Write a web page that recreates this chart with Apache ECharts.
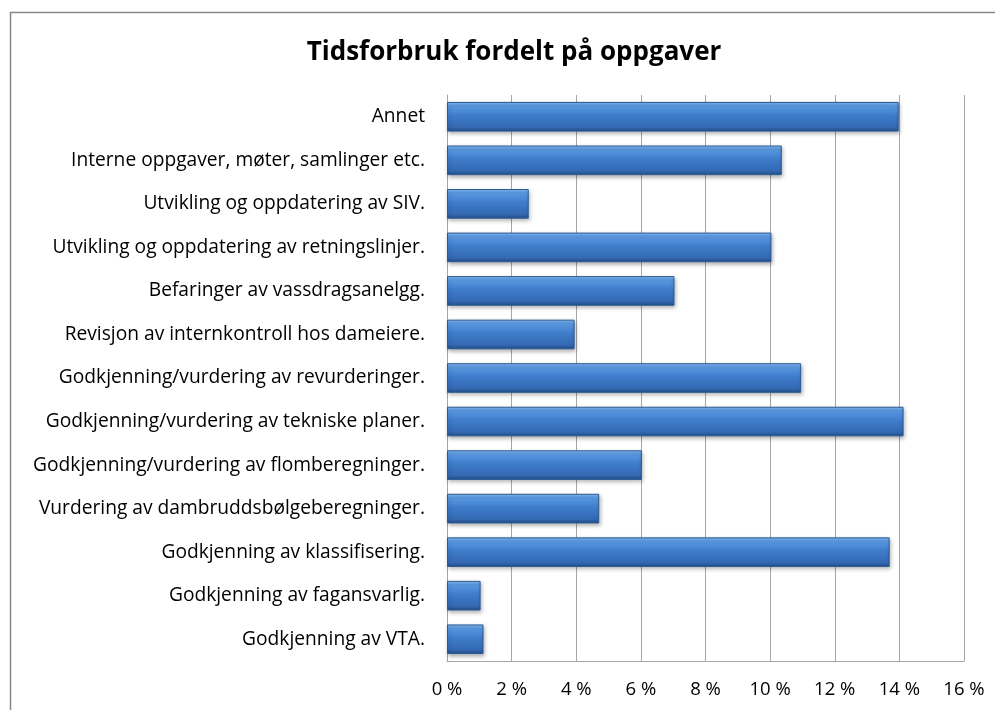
<!DOCTYPE html>
<html>
<head>
<meta charset="utf-8">
<script src="https://cdn.jsdelivr.net/npm/echarts@6/dist/echarts.min.js"></script>
<style>
  html, body { margin: 0; padding: 0; background: #fff; }
  #chart { width: 995px; height: 710px; }
</style>
</head>
<body>
<div id="chart"></div>
<script>
// oppgaver, listet ovenfra og ned
const categories = [
  'Annet',
  'Interne oppgaver, møter, samlinger etc.',
  'Utvikling og oppdatering av SIV.',
  'Utvikling og oppdatering av retningslinjer.',
  'Befaringer av vassdragsanelgg.',
  'Revisjon av internkontroll hos dameiere.',
  'Godkjenning/vurdering av revurderinger.',
  'Godkjenning/vurdering av tekniske planer.',
  'Godkjenning/vurdering av flomberegninger.',
  'Vurdering av dambruddsbølgeberegninger.',
  'Godkjenning av klassifisering.',
  'Godkjenning av fagansvarlig.',
  'Godkjenning av VTA.',
];
// andel tid i prosent
const values = [13.98, 10.36, 2.53, 10.04, 7.04, 3.95, 10.96, 14.13, 6.03, 4.71, 13.70, 1.04, 1.13];
const xTicks = [0, 2, 4, 6, 8, 10, 12, 14, 16];

const FONT = '"Open Sans", "Noto Sans", sans-serif';

const chart = echarts.init(document.getElementById('chart'));
const option = {
  backgroundColor: '#fff',
  animation: false,
  title: {
    text: 'Tidsforbruk fordelt på oppgaver',
    left: 509, top: 35, textAlign: 'center',
    textStyle: { fontFamily: FONT, fontSize: 26, fontWeight: 'bold', color: '#000' },
  },
  graphic: [{
    type: 'rect', silent: true,
    shape: { x: 10.5, y: 12.5, width: 1200, height: 1000 },
    style: { fill: 'none', stroke: '#868686', lineWidth: 1.5 },
  }],
  grid: { left: 447, right: 31, top: 95, bottom: 49 },
  xAxis: {
    type: 'value',
    min: xTicks[0], max: xTicks[xTicks.length - 1], interval: 2,
    axisLine: { show: true, lineStyle: { color: '#a6a6a6' } },
    axisTick: { show: false },
    splitLine: { show: true, lineStyle: { color: '#a6a6a6', width: 1 } },
    axisLabel: {
      fontFamily: FONT, fontSize: 18.5, color: '#000', margin: 19,
      formatter: v => v + ' %',
    },
  },
  yAxis: {
    type: 'category', data: categories, inverse: true,
    axisLine: { show: true, lineStyle: { color: '#a6a6a6' } },
    axisTick: { show: false },
    axisLabel: { fontFamily: FONT, fontSize: 19.2, color: '#000', margin: 22 },
  },
  series: [{
    type: 'bar',
    data: values,
    barCategoryGap: '32%',
    itemStyle: {
      color: new echarts.graphic.LinearGradient(0, 0, 0, 1, [
        { offset: 0, color: '#8cc0f5' },
        { offset: 0.12, color: '#5c9be3' },
        { offset: 0.45, color: '#3f7dcc' },
        { offset: 0.85, color: '#3469b3' },
        { offset: 1, color: '#234d86' },
      ]),
      borderColor: '#2a5a96',
      borderWidth: 1,
      shadowColor: 'rgba(0,0,0,0.3)',
      shadowBlur: 4,
      shadowOffsetX: 1,
      shadowOffsetY: 2,
    },
  }],
};
chart.setOption(option);
window.addEventListener('resize', () => chart.resize());
</script>
</body>
</html>
